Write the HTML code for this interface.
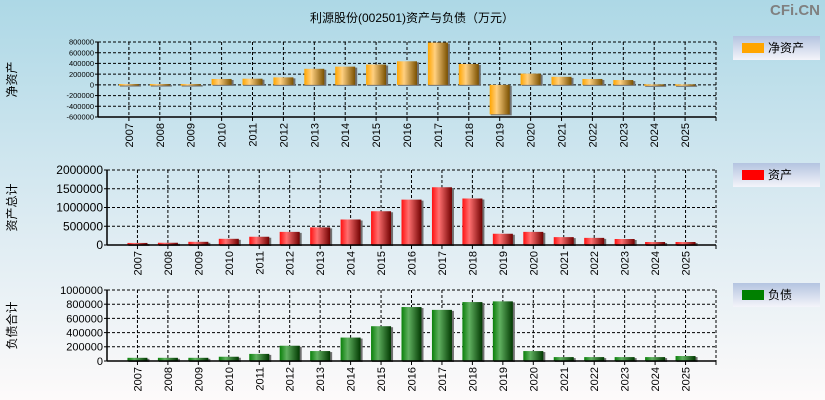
<!DOCTYPE html>
<html><head><meta charset="utf-8"><style>
html,body{margin:0;padding:0;width:825px;height:400px;overflow:hidden}
svg{display:block;font-family:"Liberation Sans","Noto Sans CJK SC",sans-serif}
</style></head><body>
<svg id="c" width="825" height="400" xmlns="http://www.w3.org/2000/svg">
<defs>
<linearGradient id="bg" x1="0" y1="0" x2="0" y2="1"><stop offset="0" stop-color="#add8e6"/><stop offset="0.55" stop-color="#dcebf2"/><stop offset="1" stop-color="#fdfafa"/></linearGradient>
<linearGradient id="lg" x1="0" y1="0" x2="0" y2="1"><stop offset="0" stop-color="#b4c4e0"/><stop offset="1" stop-color="#f4f4fa"/></linearGradient>
<linearGradient id="gO" x1="0" y1="0" x2="1" y2="0"><stop offset="0" stop-color="#ffa500"/><stop offset="0.35" stop-color="#ffd080"/><stop offset="1" stop-color="#7a5000"/></linearGradient>
<linearGradient id="gR" x1="0" y1="0" x2="1" y2="0"><stop offset="0" stop-color="#ff1010"/><stop offset="0.35" stop-color="#ff7070"/><stop offset="1" stop-color="#700000"/></linearGradient>
<linearGradient id="gG" x1="0" y1="0" x2="1" y2="0"><stop offset="0" stop-color="#0a800a"/><stop offset="0.35" stop-color="#60b060"/><stop offset="1" stop-color="#003800"/></linearGradient>
</defs>
<rect width="825" height="400" fill="url(#bg)"/>
<text x="412" y="22" font-size="12" text-anchor="middle">利源股份(002501)资产与负债（万元）</text>
<text x="820" y="15" font-size="15" font-weight="bold" fill="#808080" text-anchor="end">CFi.CN</text>
</svg>
<script>
const years=["2007","2008","2009","2010","2011","2012","2013","2014","2015","2016","2017","2018","2019","2020","2021","2022","2023","2024","2025"];
const netAssets=[15000,15000,15000,110000,115000,140000,300000,340000,380000,440000,790000,390000,-550000,210000,150000,110000,90000,10000,10000];
const totalAssets=[55000,60000,85000,165000,220000,350000,470000,680000,900000,1210000,1540000,1240000,300000,350000,210000,190000,160000,80000,80000];
const totalDebt=[45000,45000,45000,60000,100000,215000,140000,330000,490000,760000,720000,830000,840000,140000,55000,55000,55000,55000,70000];
const ticksNet=[800000,600000,400000,200000,0,-200000,-400000,-600000];
const ticksAssets=[2000000,1500000,1000000,500000,0];
const ticksDebt=[1000000,800000,600000,400000,200000,0];
const NS="http://www.w3.org/2000/svg";
const svg=document.getElementById('c');
function mk(t,a,p){const e=document.createElementNS(NS,t);for(const k in a)e.setAttribute(k,a[k]);(p||svg).appendChild(e);return e;}
function panel(cfg){
  const g=mk('g',{});
  
  
  const {L,R,T,B,min,max,ticks,vals,fill,fs}=cfg;
  const y=v=>B-(v-min)/(max-min)*(B-T);
  const step=(R-L)/20;
  const x=i=>L+step*(i+1);
  ticks.forEach(t=>{const l=mk('line',{x1:L,x2:R,y1:y(t),y2:y(t),stroke:'#000','stroke-dasharray':'3,2','stroke-width':1},g);
    
    const tx=mk('text',{x:L-4,y:y(t)+fs*0.35,'font-size':fs,'text-anchor':'end'},g);tx.textContent=String(t);
    
    mk('line',{x1:L-3,x2:L,y1:y(t),y2:y(t),stroke:'#000'},g);});
  years.forEach((yr,i)=>{const l=mk('line',{x1:x(i),x2:x(i),y1:T,y2:B,stroke:'#000','stroke-dasharray':'3,2'},g);
    });
  mk('line',{x1:R,x2:R,y1:T,y2:B,stroke:'#000','stroke-dasharray':'3,2'},g);
  const y0=y(Math.max(min,0));
  vals.forEach((v,i)=>{const top=Math.min(y(v),y0),h=Math.max(1.5,Math.abs(y(v)-y0));
    mk('rect',{x:x(i)-9,y:top+1,width:21,height:h,fill:'#707070'},g);
    const r=mk('rect',{x:x(i)-10,y:top,width:20,height:h,fill:fill},g);
    });
  mk('line',{x1:L,x2:L,y1:T,y2:B,stroke:'#000','stroke-width':1.5},g);
  mk('line',{x1:L,x2:R,y1:B,y2:B,stroke:'#000','stroke-width':1.5},g);
  mk('line',{x1:R,x2:R,y1:B,y2:B+4,stroke:'#000'},g);
  years.forEach((yr,i)=>{mk('line',{x1:x(i),x2:x(i),y1:B,y2:B+4,stroke:'#000'},g);
    const t=mk('text',{x:0,y:0,'font-size':11,'text-anchor':'end',transform:`translate(${x(i)+4},${B+6}) rotate(-90)`},g);
    t.textContent=yr;});
  const at=mk('text',{x:0,y:0,'font-size':12,'text-anchor':'middle',transform:`translate(${cfg.tx},${(T+B)/2}) rotate(-90)`},g);
  at.textContent=cfg.title;
  const lg=mk('g',{},g);
  mk('rect',{x:733,y:cfg.ly,width:87,height:24,fill:'url(#lg)'},lg);
  mk('rect',{x:742,y:cfg.ly+7,width:22,height:10,fill:cfg.solid},lg);
  const lt=mk('text',{x:768,y:cfg.ly+16,'font-size':12},lg);lt.textContent=cfg.leg;
}
panel({name:'net-assets-panel',L:98,R:716,T:42,B:117,min:-600000,max:800000,ticks:ticksNet,vals:netAssets,fill:'url(#gO)',solid:'#ffa500',fs:7.5,title:'净资产',tx:16,ly:36,leg:'净资产'});
panel({name:'total-assets-panel',L:107,R:716,T:170,B:245,min:0,max:2000000,ticks:ticksAssets,vals:totalAssets,fill:'url(#gR)',solid:'#ff0000',fs:12,title:'资产总计',tx:16,ly:163,leg:'资产'});
panel({name:'total-debt-panel',L:107,R:716,T:290,B:361,min:0,max:1000000,ticks:ticksDebt,vals:totalDebt,fill:'url(#gG)',solid:'#008000',fs:11,title:'负债合计',tx:16,ly:283,leg:'负债'});
</script>
</body></html>
